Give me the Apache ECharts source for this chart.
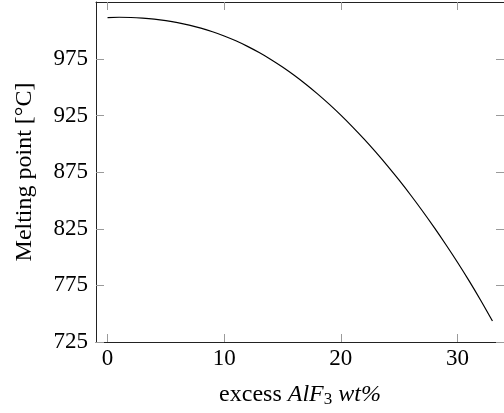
<!DOCTYPE html>
<html>
<head>
<meta charset="utf-8">
<script src="https://cdn.jsdelivr.net/npm/echarts@6/dist/echarts.min.js"></script>
<style>
html,body{margin:0;padding:0;background:#fff;}
#c{width:504px;height:413px;}
</style>
</head>
<body>
<div id="c"></div>
<script>
// excess AlF3 (wt%)
const excessAlF3 = [0,1,2,3,4,5,6,7,8,9,10,11,12,13,14,15,16,17,18,19,20,21,22,23,24,25,26,27,28,29,30,31,32,33];
// melting point (°C)
const meltingPoint = [1011.7,1012.0,1011.8,1011.2,1010.3,1009.0,1007.3,1005.1,1002.4,999.2,995.5,991.2,986.3,980.8,974.7,968.0,960.7,952.8,944.3,935.2,925.5,915.2,904.3,892.8,880.7,868.0,854.7,840.8,826.3,811.2,795.5,779.0,761.7,743.5];
const xTickValues = [0,10,20,30];
const yTickValues = [725,775,825,875,925,975];

const FONT = '"Liberation Serif", "DejaVu Serif", serif';
const xMin = -0.99, xMax = 33.99, yMin = 725, yMax = 1025.5;

const chart = echarts.init(document.getElementById('c'), null, {renderer:'canvas'});
const axisLineStyle = {color:'#222', width:1};
const tickStyle = {color:'#9a9a9a', width:1};

chart.setOption({
  animation:false,
  backgroundColor:'#fff',
  grid:{left:96, top:2, width:414, height:344, containLabel:false},
  xAxis:[{
    type:'value', min:xMin, max:xMax, position:'bottom',
    axisLine:{show:true, onZero:false, lineStyle:axisLineStyle},
    axisTick:{show:true, inside:true, length:8, customValues:xTickValues, lineStyle:tickStyle},
    axisLabel:{show:true, customValues:xTickValues, fontFamily:FONT, fontSize:23, color:'#000', margin:5},
    splitLine:{show:false},
    name:'{r|excess }{i|AlF}{s|3}{i| wt%}',
    nameLocation:'middle', nameGap:40,
    nameTextStyle:{
      rich:{
        r:{fontFamily:FONT, fontSize:24, color:'#000', lineHeight:26, verticalAlign:'middle'},
        i:{fontFamily:FONT, fontSize:24, fontStyle:'italic', color:'#000', lineHeight:26, verticalAlign:'middle'},
        s:{fontFamily:FONT, fontSize:17, color:'#000', lineHeight:12, verticalAlign:'bottom'}
      }
    }
  },{
    type:'value', min:xMin, max:xMax, position:'top',
    axisLine:{show:true, onZero:false, lineStyle:axisLineStyle},
    axisTick:{show:true, inside:true, length:8, customValues:xTickValues, lineStyle:tickStyle},
    axisLabel:{show:false},
    splitLine:{show:false}
  }],
  yAxis:[{
    type:'value', min:yMin, max:yMax, position:'left',
    axisLine:{show:true, onZero:false, lineStyle:axisLineStyle},
    axisTick:{show:true, inside:true, length:8, customValues:yTickValues, lineStyle:tickStyle},
    axisLabel:{show:true, customValues:yTickValues, fontFamily:FONT, fontSize:23, color:'#000', margin:8},
    splitLine:{show:false},
    name:'Melting point [°C]',
    nameLocation:'middle', nameRotate:90, nameGap:59,
    nameTextStyle:{fontFamily:FONT, fontSize:24, color:'#000'}
  },{
    type:'value', min:yMin, max:yMax, position:'right',
    axisLine:{show:true, onZero:false, lineStyle:axisLineStyle},
    axisTick:{show:true, inside:true, length:8, customValues:yTickValues, lineStyle:tickStyle},
    axisLabel:{show:false},
    splitLine:{show:false}
  }],
  series:[{
    type:'line',
    xAxisIndex:0, yAxisIndex:0,
    data: excessAlF3.map((x,i)=>[x, meltingPoint[i]]),
    smooth:0.4,
    showSymbol:false,
    lineStyle:{color:'#000', width:1.2}
  }]
});
</script>
</body>
</html>
